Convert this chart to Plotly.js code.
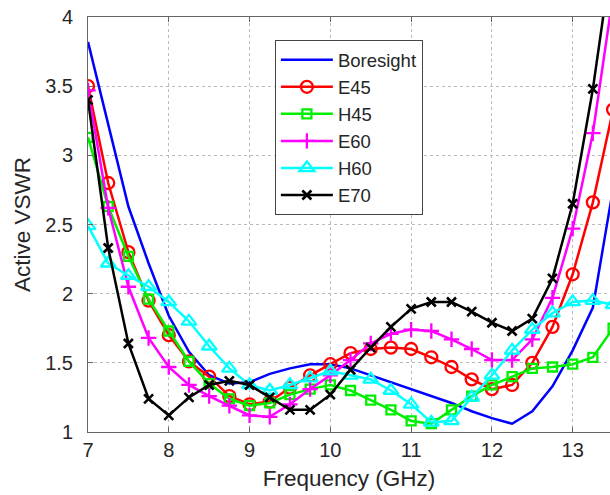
<!DOCTYPE html>
<html>
<head>
<meta charset="utf-8">
<script src="https://cdn.plot.ly/plotly-3.0.1.min.js"></script>
<style>html,body{margin:0;padding:0;background:#fff;}#chart{width:610px;height:495px;}</style>
</head>
<body>
<div id="chart"></div>
<script>
const freq = [7, 7.25, 7.5, 7.75, 8, 8.25, 8.5, 8.75, 9, 9.25, 9.5, 9.75, 10, 10.25, 10.5, 10.75, 11, 11.25, 11.5, 11.75, 12, 12.25, 12.5, 12.75, 13, 13.25, 13.5];
const boresight = [3.82, 3.22, 2.63, 2.22, 1.84, 1.58, 1.41, 1.35, 1.36, 1.42, 1.46, 1.49, 1.49, 1.46, 1.41, 1.36, 1.31, 1.26, 1.21, 1.15, 1.10, 1.06, 1.15, 1.33, 1.59, 1.90, 2.76];
const e45 = [3.50, 2.80, 2.30, 1.95, 1.70, 1.51, 1.40, 1.26, 1.20, 1.22, 1.32, 1.41, 1.49, 1.57, 1.60, 1.61, 1.60, 1.54, 1.47, 1.38, 1.31, 1.34, 1.50, 1.76, 2.14, 2.66, 3.33];
const h45 = [3.13, 2.63, 2.27, 1.96, 1.73, 1.51, 1.35, 1.24, 1.19, 1.21, 1.27, 1.31, 1.34, 1.30, 1.23, 1.16, 1.08, 1.06, 1.16, 1.26, 1.34, 1.40, 1.46, 1.47, 1.49, 1.54, 1.75];
const e60 = [3.47, 2.62, 2.05, 1.68, 1.47, 1.34, 1.26, 1.19, 1.12, 1.11, 1.20, 1.31, 1.41, 1.52, 1.64, 1.71, 1.74, 1.73, 1.67, 1.60, 1.52, 1.52, 1.67, 1.97, 2.47, 3.16, 4.16];
const h60 = [2.49, 2.22, 2.13, 2.05, 1.94, 1.80, 1.62, 1.46, 1.34, 1.30, 1.34, 1.39, 1.44, 1.41, 1.38, 1.30, 1.20, 1.07, 1.08, 1.25, 1.41, 1.59, 1.74, 1.86, 1.94, 1.95, 1.92];
const e70 = [3.40, 2.33, 1.64, 1.24, 1.12, 1.25, 1.34, 1.37, 1.34, 1.25, 1.16, 1.16, 1.27, 1.45, 1.61, 1.76, 1.89, 1.94, 1.94, 1.87, 1.79, 1.73, 1.82, 2.11, 2.65, 3.48, 4.50];
const seriesNames = ['Boresight', 'E45', 'H45', 'E60', 'H60', 'E70'];
const xTicks = [7, 8, 9, 10, 11, 12, 13];
const yTicks = [1, 1.5, 2, 2.5, 3, 3.5, 4];

const lw = 2.5;
function tr(name, y, color, sym, size, mlw) {
  const t = {x: freq, y: y, name: name, type: 'scatter', mode: sym ? 'lines+markers' : 'lines',
    line: {color: color, width: lw}, cliponaxis: true};
  if (sym) t.marker = {symbol: sym, size: size, color: color, line: {color: color, width: mlw}};
  return t;
}
const data = [
  tr(seriesNames[0], boresight, '#0000ff', null),
  tr(seriesNames[1], e45, '#ff0000', 'circle-open', 12, 2.3),
  tr(seriesNames[2], h45, '#00ee00', 'square-open', 9, 2.3),
  tr(seriesNames[3], e60, '#ff00ff', 'cross-thin-open', 11, 2.3),
  tr(seriesNames[4], h60, '#00ffff', 'triangle-up-open', 13, 2.3),
  tr(seriesNames[5], e70, '#000000', 'x-thin-open', 9, 2.6)
];
const fontFam = 'Liberation Sans, Arial, sans-serif';
const txt = '#262626';
const layout = {
  width: 610, height: 495,
  margin: {l: 88, r: 0, t: 17, b: 63},
  paper_bgcolor: '#fff', plot_bgcolor: '#fff',
  showlegend: true,
  font: {family: fontFam, size: 20, color: txt},
  xaxis: {
    range: [7, 13.462], tickvals: xTicks, ticktext: xTicks.map(String),
    showline: true, linecolor: '#666', linewidth: 1, mirror: 'ticks',
    ticks: 'inside', ticklen: 5, tickcolor: '#666',
    showgrid: true, gridcolor: '#bbbbbb', griddash: 'dot', gridwidth: 1,
    zeroline: false, tickfont: {size: 20, family: fontFam, color: txt},
    title: {text: 'Frequency (GHz)', font: {size: 22.5, family: fontFam, color: txt}, standoff: 10}
  },
  yaxis: {
    range: [1, 4], tickvals: yTicks, ticktext: yTicks.map(String),
    showline: true, linecolor: '#666', linewidth: 1, mirror: false,
    ticks: 'inside', ticklen: 5, tickcolor: '#666',
    showgrid: true, gridcolor: '#bbbbbb', griddash: 'dot', gridwidth: 1,
    zeroline: false, tickfont: {size: 20, family: fontFam, color: txt},
    ticklabelstandoff: 10,
    title: {text: 'Active VSWR', font: {size: 22.5, family: fontFam, color: txt}, standoff: 8}
  },
  legend: {
    x: 0.358, y: 0.944, xanchor: 'left', yanchor: 'top',
    bgcolor: '#fff', bordercolor: '#444', borderwidth: 1,
    font: {size: 18.5, family: fontFam, color: txt},
    itemwidth: 52, tracegroupgap: 0
  }
};
Plotly.newPlot('chart', data, layout, {displayModeBar: false, staticPlot: true});
</script>
</body>
</html>
